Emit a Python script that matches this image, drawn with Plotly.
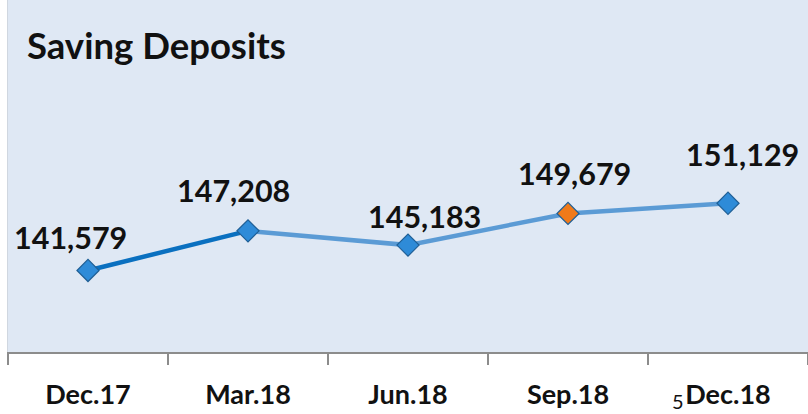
import plotly.graph_objects as go

categories = ["Dec.17", "Mar.18", "Jun.18", "Sep.18", "Dec.18"]
values = [141579, 147208, 145183, 149679, 151129]
labels = ["141,579", "147,208", "145,183", "149,679", "151,129"]
marker_colors = ["#2E8BD8", "#2E8BD8", "#2E8BD8", "#F07A1A", "#2E8BD8"]
label_xshift = [-18, -15, 16, 6, 14]
label_yshift = [33, 41, 29, 40, 49]

fig = go.Figure()
# first segment darker
fig.add_trace(go.Scatter(x=categories[:2], y=values[:2], mode="lines",
                         line=dict(color="#0A70C0", width=4.5), hoverinfo="skip"))
fig.add_trace(go.Scatter(x=categories[1:], y=values[1:], mode="lines",
                         line=dict(color="#5B9BD5", width=4.5), hoverinfo="skip"))
fig.add_trace(go.Scatter(x=categories, y=values, mode="markers",
                         marker=dict(symbol="diamond", size=17, color=marker_colors,
                                     line=dict(color="#1F5F96", width=1.2))))

for c, v, t, xs, ys in zip(categories, values, labels, label_xshift, label_yshift):
    fig.add_annotation(x=c, y=v, text=t, showarrow=False, xshift=xs, yshift=ys,
                       font=dict(family="Lato", size=30.5, color="#111111", weight="bold"))

fig.add_annotation(xref="paper", yref="paper", x=0.021, y=0.872, xanchor="left",
                   yanchor="middle", text="Saving Deposits", showarrow=False,
                   font=dict(family="Lato", size=36.5, color="#111111", weight="bold"))
fig.add_annotation(xref="paper", yref="paper", x=0.8375, y=-0.14, xanchor="center",
                   yanchor="middle", text="5", showarrow=False,
                   font=dict(family="Lato", size=20, color="#111111"))

fig.update_layout(
    width=808, height=414,
    margin=dict(l=8, r=0, t=0, b=62),
    plot_bgcolor="#DFE8F4", paper_bgcolor="white",
    showlegend=False,
    xaxis=dict(type="category", range=[-0.5, 4.5], tickson="boundaries",
               ticks="outside", ticklen=11, tickcolor="#8C8C8C", tickwidth=1.5,
               showline=True, linecolor="#8C8C8C", linewidth=1.5, showgrid=False,
               tickfont=dict(family="Lato", size=27, color="#111111", weight="bold")),
    yaxis=dict(range=[130000, 180000], showgrid=False, showticklabels=False,
               zeroline=False, showline=True, linecolor="#D0D7E0", linewidth=1),
)
fig.update_xaxes(ticklabelstandoff=18)

fig.write_html("out.html", config={"displayModeBar": False},
               post_script="document.body.style.margin='0';")
